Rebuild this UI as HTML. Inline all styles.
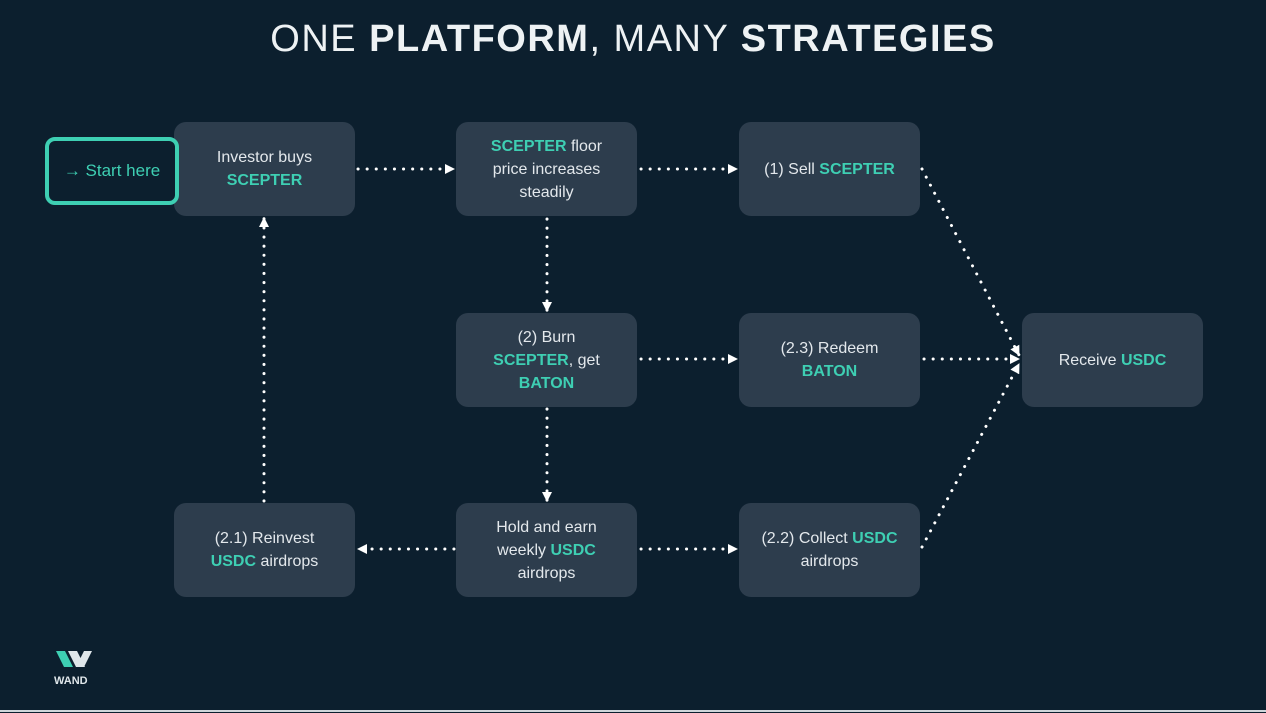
<!DOCTYPE html>
<html><head><style>
body{margin:0;width:1266px;height:713px;background:#0c1f2e;overflow:hidden;position:relative;font-family:"Liberation Sans",sans-serif;color:#e6ecef}
.t{position:absolute;top:18px;left:0;width:1266px;text-align:center;font-size:38px;letter-spacing:1.5px;color:#eef2f4;font-weight:300}
.t b{font-weight:700}
.b{position:absolute;width:181px;height:94px;background:#2d3d4d;border-radius:12px;display:flex;align-items:center;justify-content:center;text-align:center;font-size:16px;line-height:23px;color:#e3e8ec}
.b b{color:#3ecfb3}
.s{position:absolute;z-index:2;left:45px;top:137px;width:126px;height:60px;border:4px solid #3ecfb3;background:#0c1f2e;border-radius:10px;color:#3ecfb3;font-size:17px;display:flex;align-items:center;justify-content:center}
svg{position:absolute;left:0;top:0}
</style></head><body>
<div class="t">ONE <b>PLATFORM</b>, MANY <b>STRATEGIES</b></div>
<svg width="1266" height="713">
<defs><marker id="a" markerWidth="10" markerHeight="10" refX="9" refY="5" orient="auto" markerUnits="userSpaceOnUse"><path d="M0,0L10,5L0,10z" fill="#fff"/></marker></defs>
<g stroke="#fff" stroke-width="3" stroke-dasharray="0.1 9" stroke-linecap="round" fill="none" marker-end="url(#a)">
<path d="M358,169H454"/><path d="M641,169H737"/>
<path d="M547,219V311"/><path d="M547,409V501"/>
<path d="M641,359H737"/><path d="M924,359H1019"/>
<path d="M454,549H358"/><path d="M641,549H737"/>
<path d="M264,501V218"/>
<path d="M922,169L1019,355"/><path d="M922,547L1019,364"/>
</g>
<path d="M56,651h9l8,16h-9z" fill="#3ecfb3"/><path d="M68,651h9l8,16h-9z" fill="#dfe6ea"/><path d="M84,667l8-16h-8l-8,16z" fill="#dfe6ea"/>
<text x="54" y="684" font-size="11" fill="#dfe6ea" font-family="Liberation Sans" font-weight="bold">WAND</text>
<line x1="0" y1="711" x2="1266" y2="711" stroke="#cfd6da" stroke-width="2"/>
</svg>
<div class="s">→ Start here</div>
<div class="b" style="left:174px;top:122px"><span>Investor buys<br><b>SCEPTER</b></span></div>
<div class="b" style="left:456px;top:122px"><span><b>SCEPTER</b> floor<br>price increases<br>steadily</span></div>
<div class="b" style="left:739px;top:122px"><span>(1) Sell <b>SCEPTER</b></span></div>
<div class="b" style="left:456px;top:313px"><span>(2) Burn<br><b>SCEPTER</b>, get<br><b>BATON</b></span></div>
<div class="b" style="left:739px;top:313px"><span>(2.3) Redeem<br><b>BATON</b></span></div>
<div class="b" style="left:1022px;top:313px"><span>Receive <b>USDC</b></span></div>
<div class="b" style="left:174px;top:503px"><span>(2.1) Reinvest<br><b>USDC</b> airdrops</span></div>
<div class="b" style="left:456px;top:503px"><span>Hold and earn<br>weekly <b>USDC</b><br>airdrops</span></div>
<div class="b" style="left:739px;top:503px"><span>(2.2) Collect <b>USDC</b><br>airdrops</span></div>
</body></html>
